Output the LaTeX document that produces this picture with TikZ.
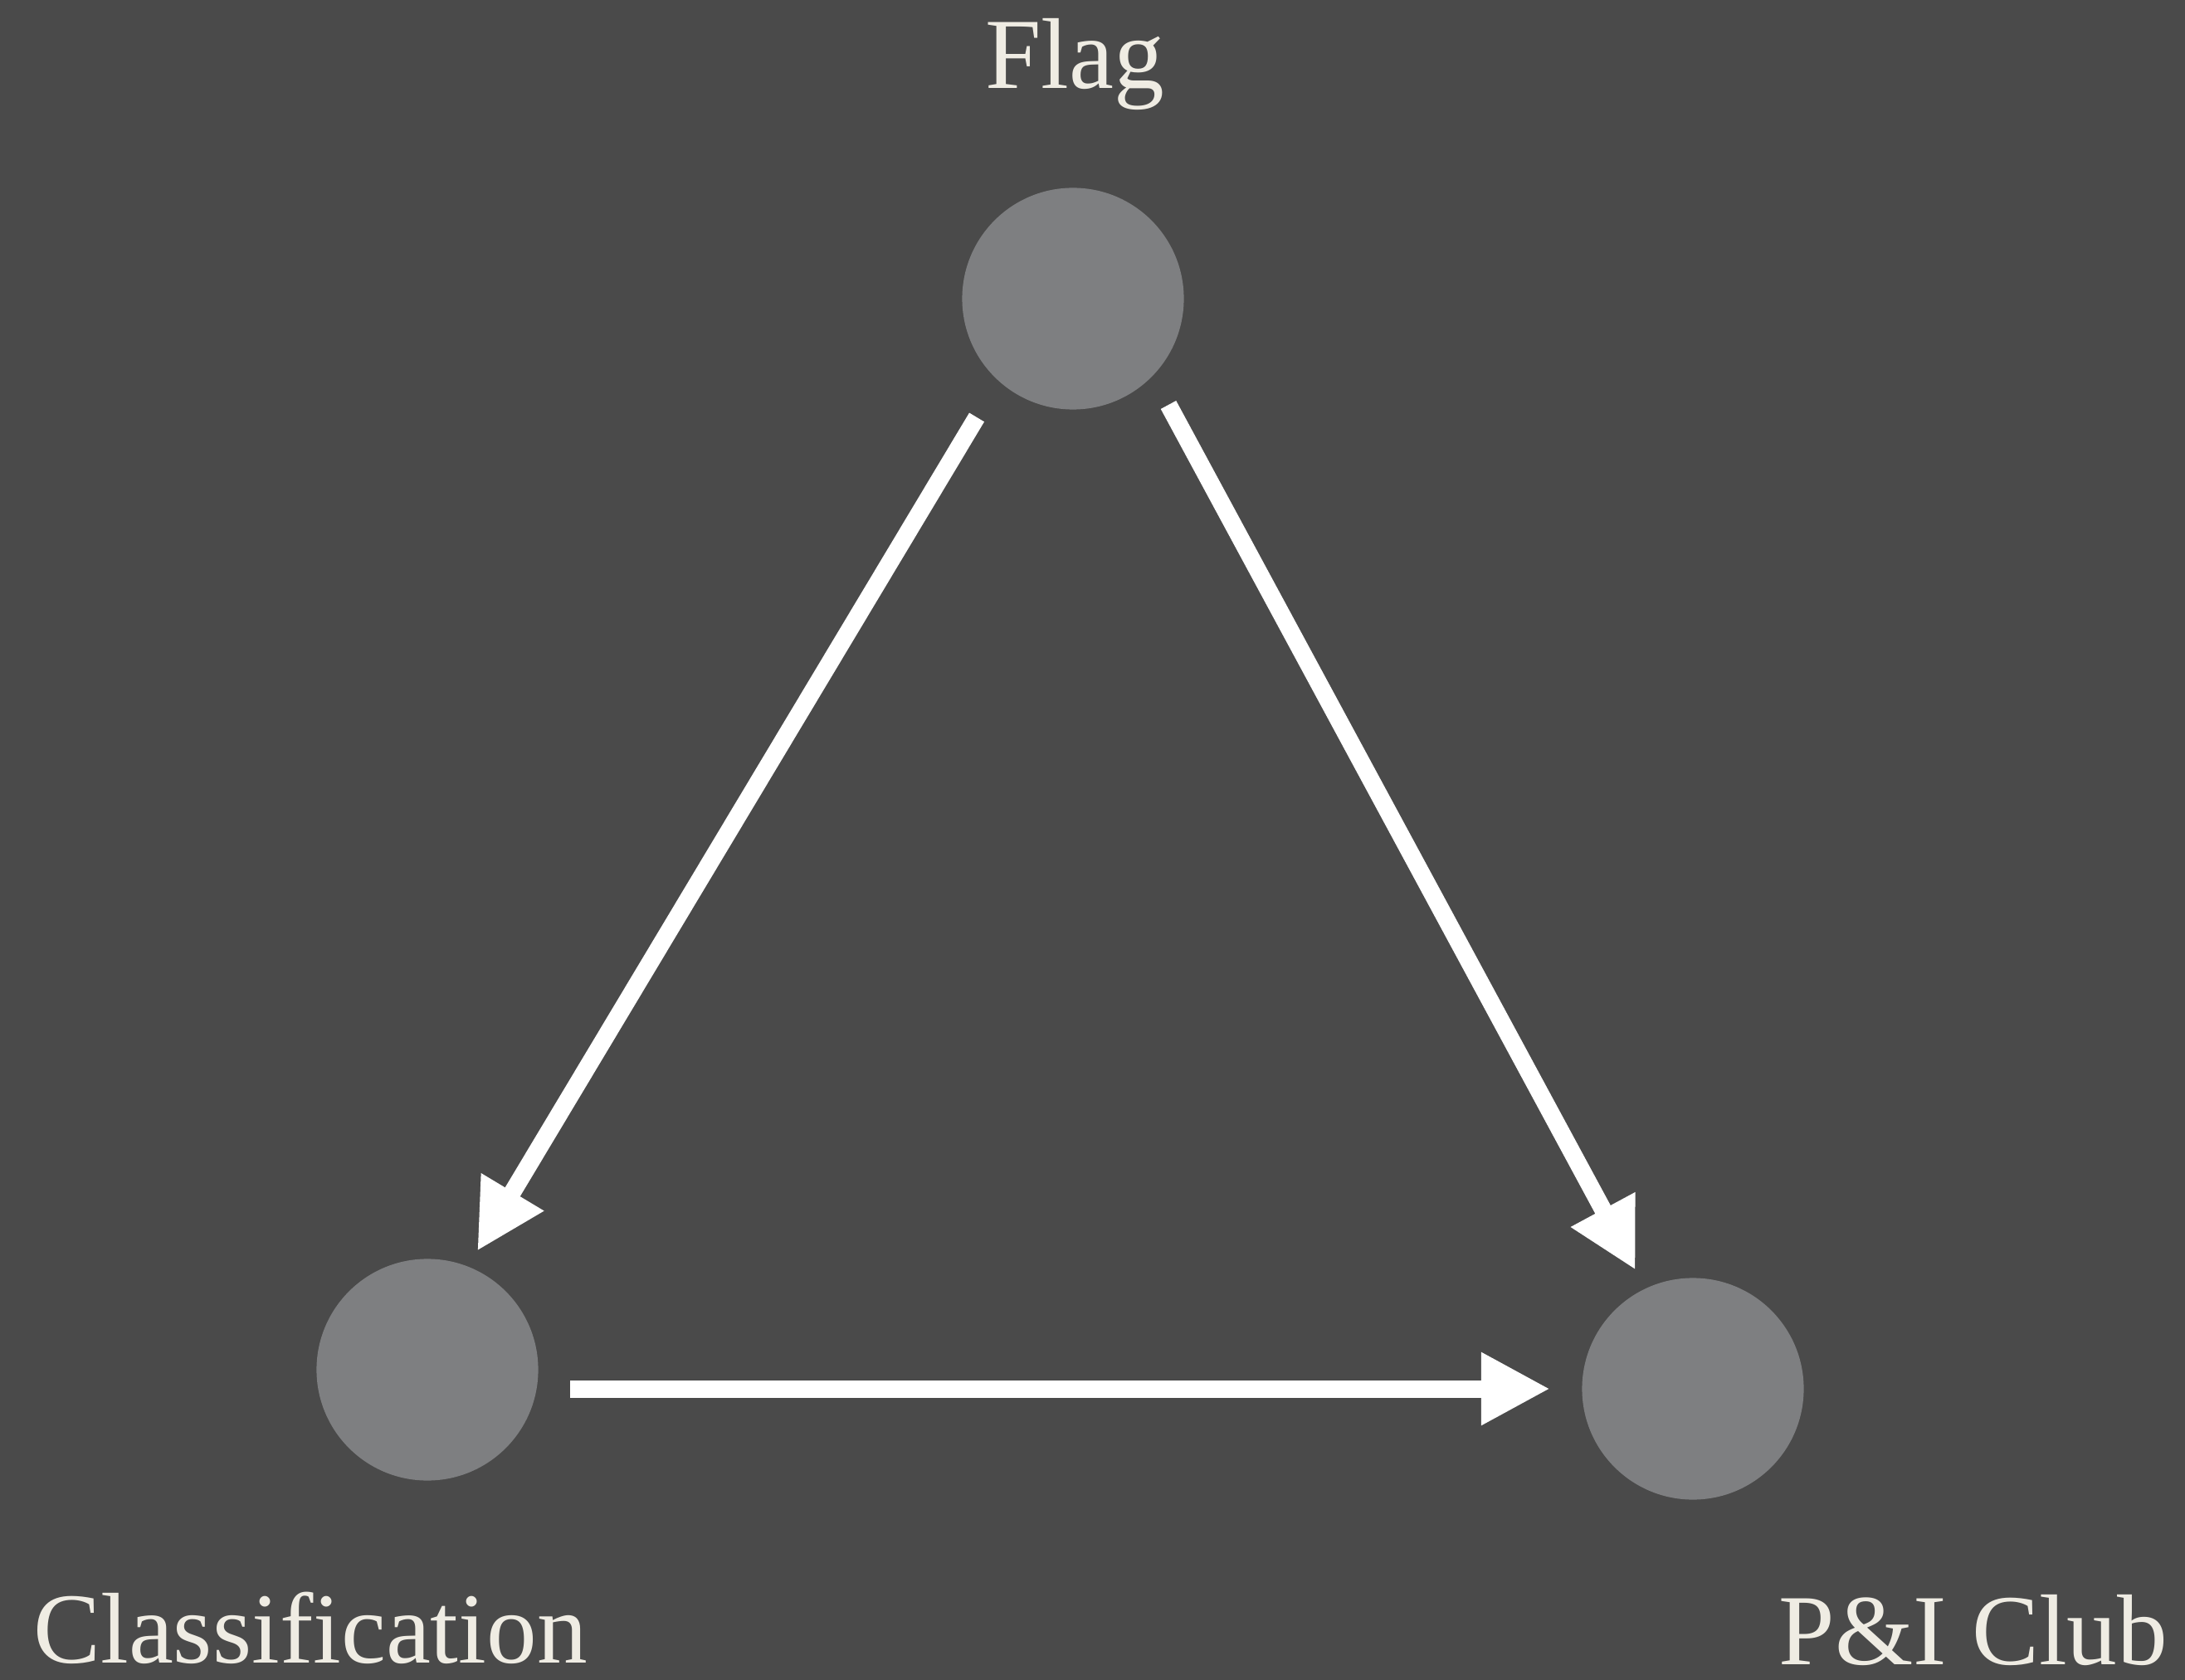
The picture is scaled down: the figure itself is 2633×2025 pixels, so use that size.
\documentclass[tikz,border=0pt]{standalone}
\usepackage{fontspec}
\setmainfont{Liberation Serif}
\usetikzlibrary{arrows.meta}
\definecolor{bg}{HTML}{4A4A4A}
\definecolor{circ}{HTML}{7E7F81}
\definecolor{txt}{HTML}{EFECE3}
\tikzset{
  party/.style={circle, fill=circ, draw=none, minimum size=2.67cm, inner sep=0pt},
  lbl/.style={text=txt, inner sep=0pt, anchor=base, text depth=0pt, font=\fontsize{34.5}{40}\selectfont},
  link/.style={draw=white, line width=0.21cm, -{Triangle[length=0.83cm, width=0.82cm]}}
}
\begin{document}
\begin{tikzpicture}[x=0.01cm, y=-0.01cm]
\fill[bg] (0,0) rectangle (2633,2025);
\useasboundingbox (0,0) rectangle (2633,2025);
\node[party] (flag) at (1293,360) {};
\node[party] (class) at (515,1651) {};
\node[party] (pi) at (2040,1674) {};
\node[lbl] (flagt) at (1295,107) {Flag};
\node[lbl] (classt) at (374,2004) {Classification};
\node[lbl] (pit) at (2378,2006) {P\&I Club};
\coordinate (a1) at (1177,503);
\coordinate (a2) at (575,1508);
\coordinate (b1) at (1408,488);
\coordinate (b2) at (1971,1531);
\coordinate (c1) at (687,1674);
\coordinate (c2) at (1868,1674);
\draw[link] (a1) -- (a2);
\draw[link] (b1) -- (b2);
\draw[link] (c1) -- (c2);
\end{tikzpicture}
\end{document}
